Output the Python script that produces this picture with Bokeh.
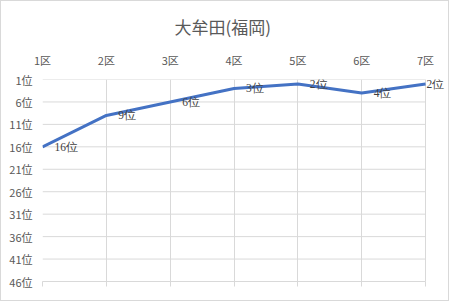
from bokeh.plotting import figure
from bokeh.models import Range1d, FixedTicker, LinearAxis, ColumnDataSource, Title, LabelSet
from bokeh.embed import file_html
from bokeh.resources import INLINE

categories = ["1区", "2区", "3区", "4区", "5区", "6区", "7区"]
ranks = [16, 9, 6, 3, 2, 4, 2]
rank_ticks = [1, 6, 11, 16, 21, 26, 31, 36, 41, 46]
title_text = "大牟田(福岡)"

FONT = "Noto Sans CJK JP"
xs = list(range(len(categories)))
x_last = xs[-1]
# frame extends past the last category so that its data label is not clipped
x_pad = 25 / 64.0

p = figure(width=449, height=301, output_backend="svg", toolbar_location=None,
           x_range=Range1d(0, x_last + x_pad),
           y_range=Range1d(max(rank_ticks), min(rank_ticks)),
           x_axis_location="above",
           min_border_left=41, min_border_right=0, min_border_top=78, min_border_bottom=21,
           background_fill_color="white", border_fill_color="white",
           outline_line_color=None,
           styles={"border": "1px solid #D9D9D9"})

p.title = Title(text=title_text, align="left", text_font=FONT, text_font_size="17px",
                text_color="#595959", text_font_style="normal", offset=132, standoff=19)

# top axis (category labels)
xa = p.xaxis[0]
xa.ticker = FixedTicker(ticks=xs)
xa.major_label_overrides = {i: c for i, c in zip(xs, categories)}
xa.major_label_text_font = FONT
xa.major_label_text_font_size = "11px"
xa.major_label_text_color = "#595959"
xa.major_tick_line_color = None
xa.major_tick_out = 0
xa.major_tick_in = 0
xa.minor_tick_line_color = None
xa.minor_tick_out = 0
xa.axis_line_color = None
xa.major_label_standoff = 12

ya = p.yaxis[0]
ya.ticker = FixedTicker(ticks=rank_ticks)
ya.major_label_overrides = {t: f"{t}位" for t in rank_ticks}
ya.major_label_text_font = FONT
ya.major_label_text_font_size = "11px"
ya.major_label_text_color = "#595959"
ya.major_tick_line_color = None
ya.major_tick_out = 0
ya.major_tick_in = 0
ya.minor_tick_line_color = None
ya.minor_tick_out = 0
ya.axis_line_color = None
ya.major_label_standoff = 10

# bottom axis with only tick marks
bx = LinearAxis(ticker=FixedTicker(ticks=xs), major_label_text_font_size="0px",
                major_tick_out=5, major_tick_in=0, major_tick_line_color="#D9D9D9",
                minor_tick_line_color=None, axis_line_color="#D9D9D9",
                major_label_standoff=0, bounds=(xs[0], x_last))
bx.major_label_overrides = {i: "" for i in xs}
p.add_layout(bx, "below")

p.xgrid.ticker = FixedTicker(ticks=xs)
p.xgrid.grid_line_color = "#D9D9D9"
p.ygrid.grid_line_color = None

# horizontal gridlines limited to the category span
p.segment(x0=[xs[0]] * len(rank_ticks), x1=[x_last] * len(rank_ticks),
          y0=rank_ticks, y1=rank_ticks, line_color="#D9D9D9", line_width=1)

src = ColumnDataSource(dict(
    x=xs, y=ranks,
    label=[f"{r}位" for r in ranks],
    xo=[12] * (len(ranks) - 1) + [1],
))
p.line("x", "y", source=src, line_color="#4472C4", line_width=3)
labels = LabelSet(x="x", y="y", text="label", source=src, x_offset="xo",
                  text_baseline="middle", text_align="left", text_font=FONT,
                  text_font_size="11.5px", text_color="#404040")
p.add_layout(labels)

open("out.html", "w").write(file_html(p, INLINE))
